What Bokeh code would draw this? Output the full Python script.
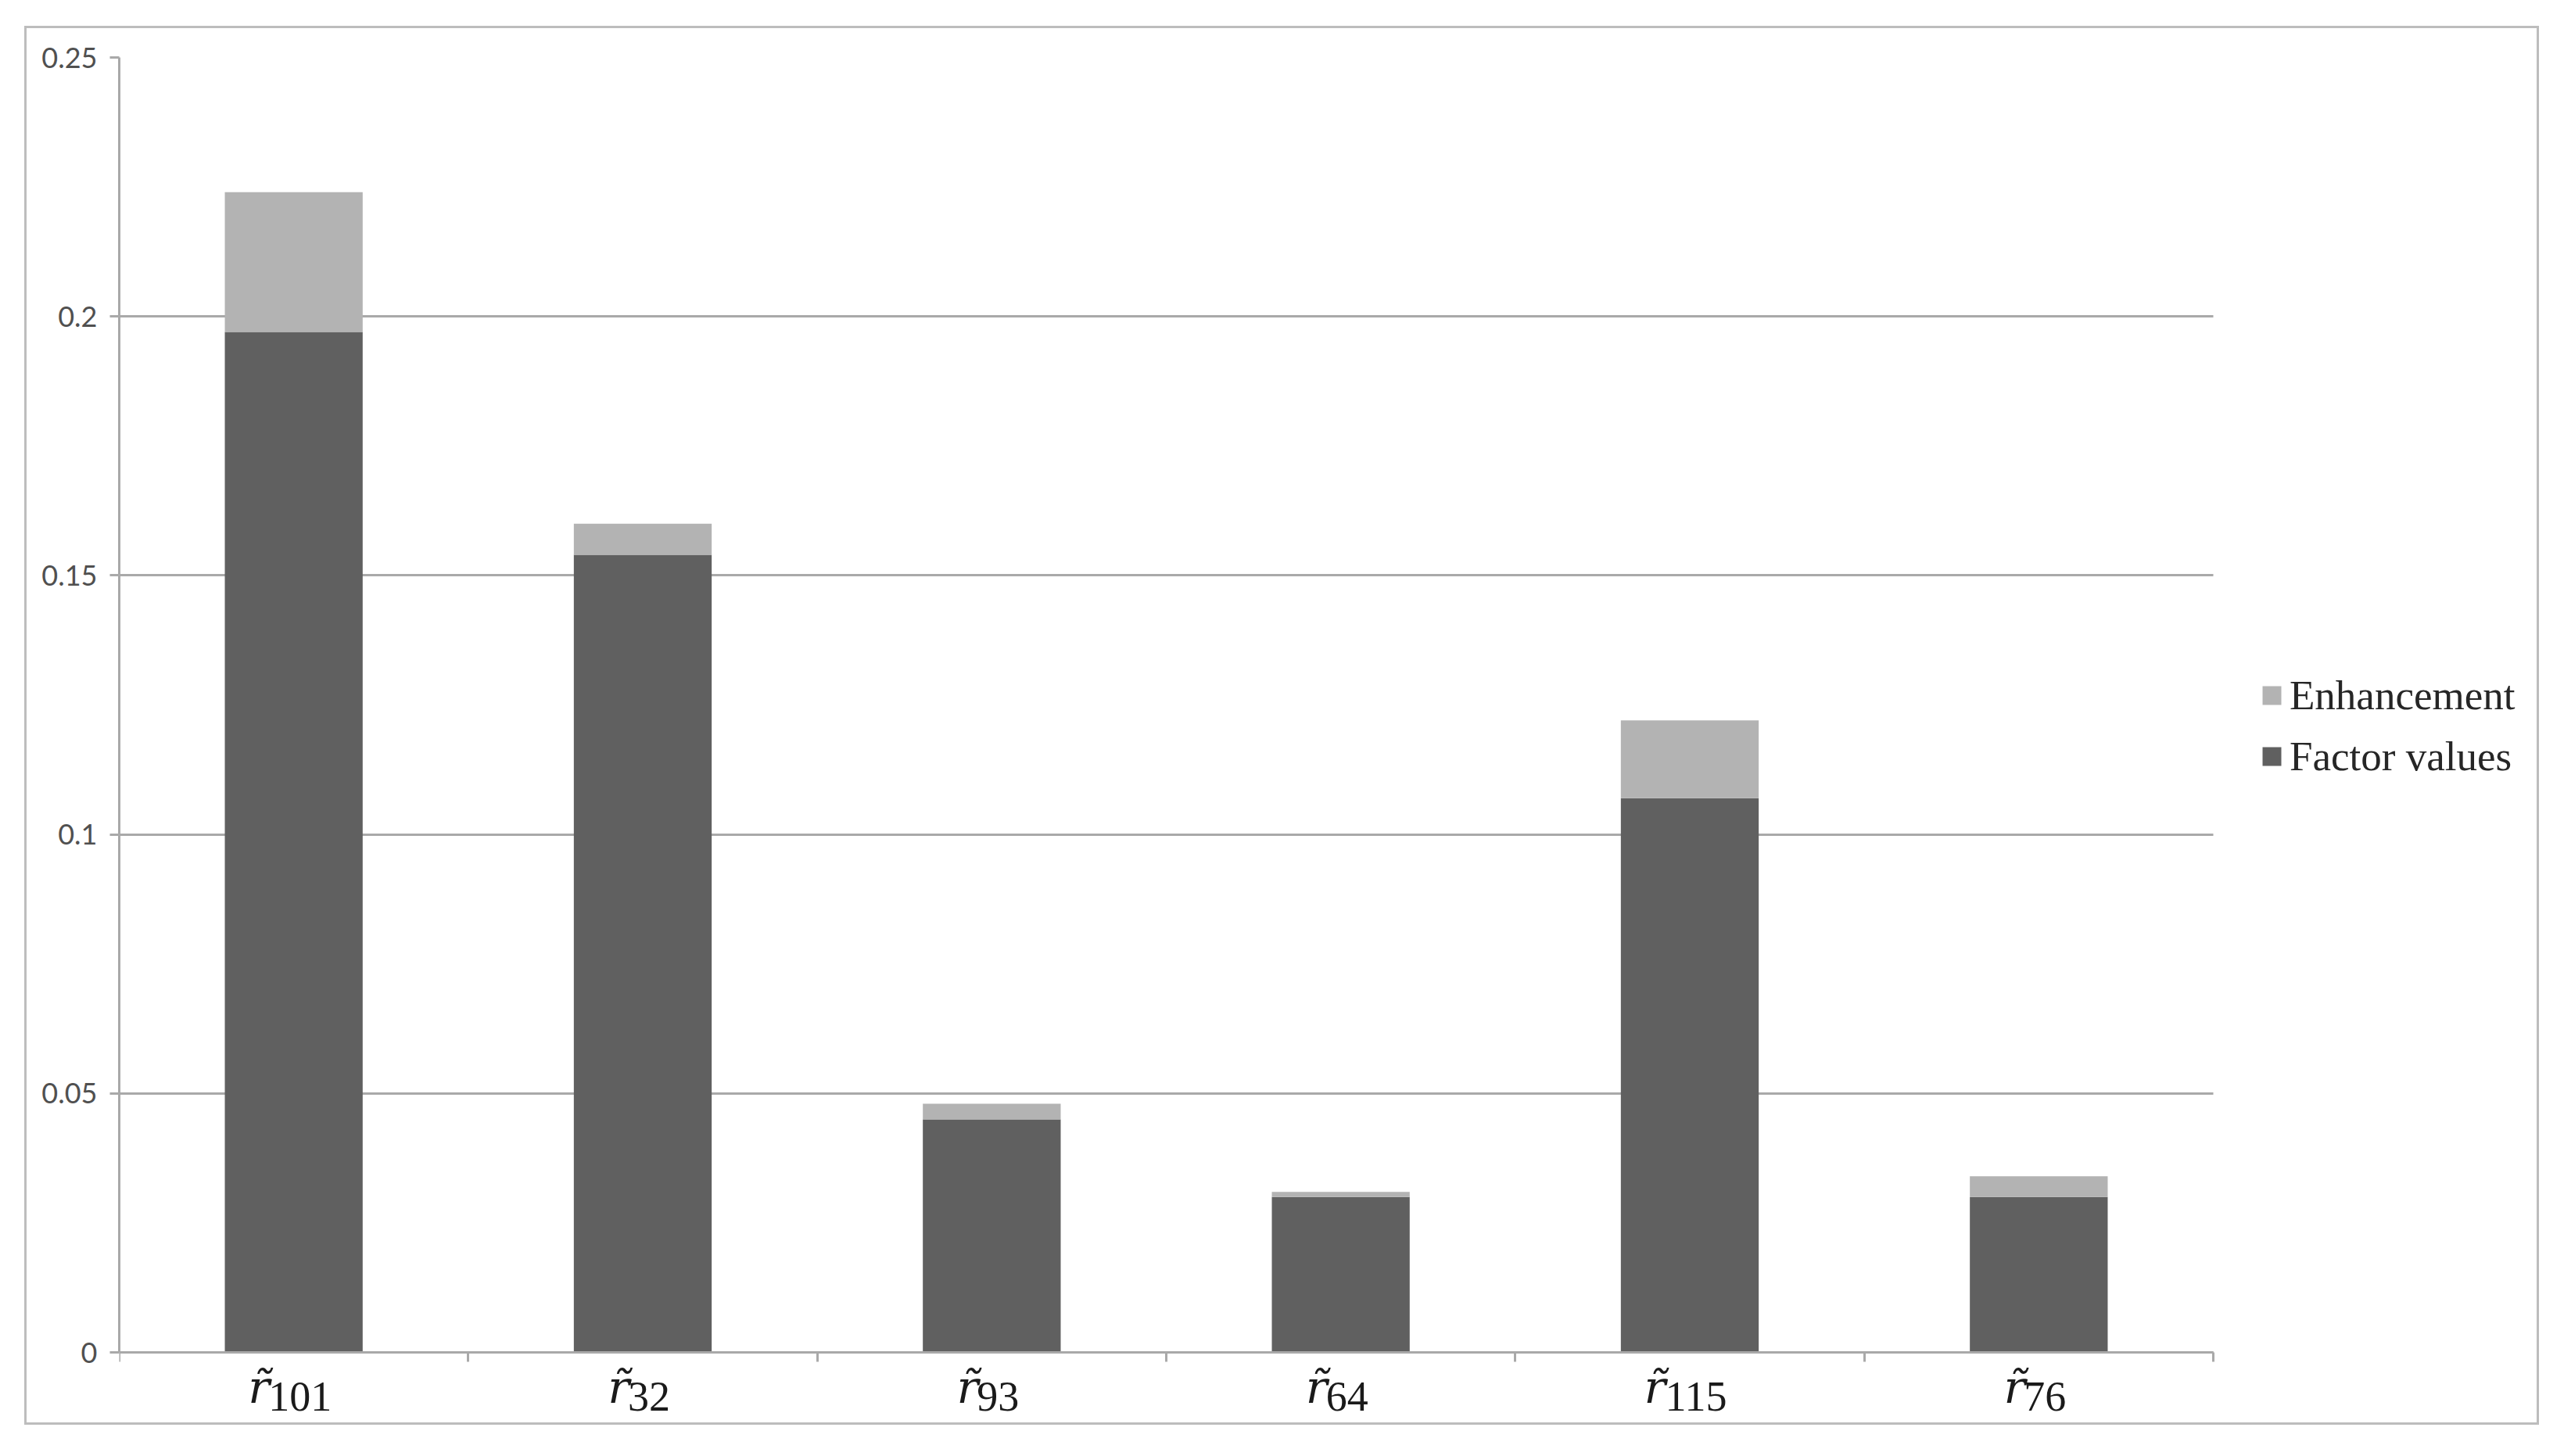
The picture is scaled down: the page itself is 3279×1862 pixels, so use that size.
from bokeh.plotting import figure
from bokeh.models import (Range1d, FixedTicker, Legend, LegendItem,
                          ColumnDataSource, Grid)
from bokeh.core.properties import value
from bokeh.embed import file_html
from bokeh.resources import INLINE

# ---- data ----
categories = ["101", "32", "93", "64", "115", "76"]   # subscripts of r̃
factor_values = [0.197, 0.154, 0.045, 0.030, 0.107, 0.030]
enhancement = [0.027, 0.006, 0.003, 0.001, 0.015, 0.004]
y_ticks = [0, 0.05, 0.1, 0.15, 0.2, 0.25]
y_tick_labels = ["0", "0.05", "0.1", "0.15", "0.2", "0.25"]
series_names = ["Factor values", "Enhancement"]

DARK = "#606060"
LIGHT = "#b3b3b3"
GRID = "#a9a9a9"

ncat = len(categories)
xs = [i + 0.5 for i in range(ncat)]
src = ColumnDataSource(dict(x=xs, factor=factor_values, enh=enhancement))

# ---- layout (pixels) ----
W, H = 3216, 1789
ML, MT = 118, 37
plot_h = 1656                       # pixels from 0 to 0.25
below_zero = H - MT - plot_h        # room under the zero line for category labels
px_per_unit = 446.33                # width of one category slot
x_end = (W - ML) / px_per_unit
y_top = y_ticks[-1]
y_min = -below_zero * y_top / plot_h

p = figure(width=W, height=H, output_backend="svg", toolbar_location=None,
           x_range=Range1d(0, x_end), y_range=Range1d(y_min, y_top),
           x_axis_location="above",
           min_border_left=ML, min_border_top=MT, min_border_right=0,
           min_border_bottom=0)
p.styles = {"margin-left": "31px", "margin-top": "33px",
            "border": "3px solid #bdbdbd"}
p.outline_line_color = None
p.background_fill_color = "white"
p.border_fill_color = "white"

renderers = p.vbar_stack(["factor", "enh"], x="x", width=0.395, source=src,
                         color=[DARK, LIGHT], line_color=None)

# y axis
p.yaxis.bounds = (0, y_top)
p.yaxis.ticker = FixedTicker(ticks=y_ticks)
p.yaxis.major_label_overrides = {t: l for t, l in zip(y_ticks, y_tick_labels)}
p.yaxis.major_label_text_font = "Lato"
p.yaxis.major_label_text_font_size = "36px"
p.yaxis.major_label_text_color = "#505050"
p.yaxis.major_label_standoff = 16
p.yaxis.major_tick_out = 12
p.yaxis.major_tick_in = 0
p.yaxis.major_tick_line_color = GRID
p.yaxis.major_tick_line_width = 3
p.yaxis.minor_tick_line_color = None
p.yaxis.axis_line_color = GRID
p.yaxis.axis_line_width = 3

# x axis drawn at y = 0, category separators as (downward) ticks
xa = p.xaxis[0]
xa.fixed_location = 0
xa.bounds = (0, ncat)
xa.ticker = FixedTicker(ticks=[], minor_ticks=list(range(ncat + 1)))
xa.major_tick_line_color = None
xa.minor_tick_out = 0
xa.minor_tick_in = 12
xa.minor_tick_line_color = GRID
xa.minor_tick_line_width = 3
xa.axis_line_color = GRID
xa.axis_line_width = 3

# category labels: italic r̃ with subscript number
DIGIT_W = 27
r_off, d_off = [], []
for c in categories:
    n = len(c)
    left = -4 - (24 + DIGIT_W * n) / 2
    r_off.append(left + 12)
    d_off.append(left + 24 + DIGIT_W * n / 2)
lab = ColumnDataSource(dict(x=xs, y=[0] * ncat, r=["r\u0303"] * ncat, sub=categories,
                            r_off=r_off, d_off=d_off))
p.text(x="x", y="y", text="r", source=lab, x_offset="r_off", y_offset=44,
       text_font=value("DejaVu Serif"), text_font_style="italic",
       text_font_size="58px", text_color="#1a1a1a", text_align="center",
       text_baseline="alphabetic")
p.text(x="x", y="y", text="sub", source=lab, x_offset="d_off", y_offset=56,
       text_font=value("Liberation Serif"), text_font_size="54px",
       text_color="#1a1a1a", text_align="center", text_baseline="alphabetic")

# horizontal grid limited to the category area
p.xgrid.visible = False
if "cross_bounds" in Grid.properties():
    p.ygrid.ticker = FixedTicker(ticks=y_ticks)
    p.ygrid.cross_bounds = (0, ncat)
    p.ygrid.grid_line_color = GRID
    p.ygrid.grid_line_width = 3
else:
    p.ygrid.visible = False
    p.segment(x0=[0] * len(y_ticks), x1=[ncat] * len(y_ticks), y0=y_ticks, y1=y_ticks,
              line_color=GRID, line_width=3, level="underlay")

# legend (Enhancement on top); location relative to the frame's bottom-left
legend = Legend(items=[LegendItem(label=series_names[1], renderers=[renderers[1]]),
                       LegendItem(label=series_names[0], renderers=[renderers[0]])],
                location=(2738, 732 + below_zero), padding=0, margin=0, spacing=18,
                glyph_width=30, glyph_height=30, label_standoff=8,
                label_text_font="Liberation Serif", label_text_font_size="53px",
                label_text_color="#262626", border_line_color=None,
                background_fill_alpha=0)
p.add_layout(legend)

open("out.html", "w").write(file_html(p, INLINE))
